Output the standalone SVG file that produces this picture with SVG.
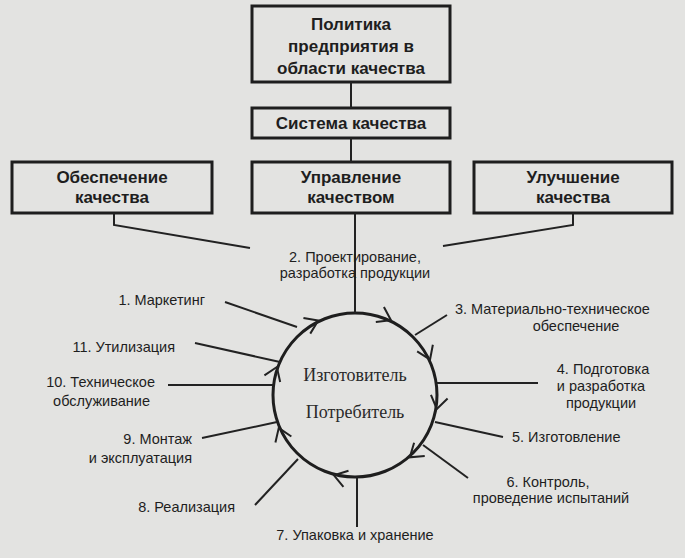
<svg xmlns="http://www.w3.org/2000/svg" xmlns:xlink="http://www.w3.org/1999/xlink" width="685" height="558" viewBox="0 0 685 558">
<style>
.box{fill:none;stroke:#1e1e1e;stroke-width:3}
.bt{font-family:"Liberation Sans",Arial,sans-serif;font-weight:bold;font-size:17px;fill:#1e1e1e;text-anchor:middle}
.lt{font-family:"Liberation Sans",Arial,sans-serif;font-size:14.5px;fill:#1e1e1e}
.ct{font-family:"Liberation Serif","Times New Roman",serif;font-size:18px;fill:#2a2a2a;text-anchor:middle}
.ln{stroke:#222;stroke-width:2;fill:none}
</style>
<defs>
<path id="chev" d="M430,383 L438,396 L447,384" fill="none" stroke="#222" stroke-width="2"/>
</defs>
<rect width="685" height="558" fill="#e3e3e1"/>
<g id="politika"><rect class="box" x="252" y="6" width="198" height="76"/>
<text class="bt" x="351" y="30">Политика</text><text class="bt" x="351" y="52">предприятия в</text><text class="bt" x="351" y="74">области качества</text></g>
<g id="sistema"><rect class="box" x="252" y="108" width="198" height="30"/><text class="bt" x="351" y="129">Система качества</text></g>
<g id="obesp"><rect class="box" x="12" y="162" width="200" height="51"/><text class="bt" x="112" y="183">Обеспечение</text><text class="bt" x="112" y="203">качества</text></g>
<g id="uprav"><rect class="box" x="252" y="162" width="198" height="51"/><text class="bt" x="351" y="183">Управление</text><text class="bt" x="351" y="203">качеством</text></g>
<g id="uluch"><rect class="box" x="474" y="162" width="198" height="51"/><text class="bt" x="573" y="183">Улучшение</text><text class="bt" x="573" y="203">качества</text></g>
<g id="cycle">
<circle cx="355" cy="395" r="82" fill="none" stroke="#1e1e1e" stroke-width="3"/>
<text class="ct" x="355" y="381">Изготовитель</text><text class="ct" x="355" y="418">Потребитель</text>
<use xlink:href="#chev" transform="rotate(-117 355 395)"/>
<use xlink:href="#chev" transform="rotate(-65 355 395)"/>
<use xlink:href="#chev" transform="rotate(-26 355 395)"/>
<use xlink:href="#chev" transform="rotate(9 355 395)"/>
<use xlink:href="#chev" transform="rotate(48 355 395)"/>
<use xlink:href="#chev" transform="rotate(104 355 395)"/>
<use xlink:href="#chev" transform="rotate(156 355 395)"/>
<use xlink:href="#chev" transform="rotate(199 355 395)"/>
</g>
<g id="connectors" class="ln">
<line x1="351" y1="82" x2="351" y2="108"/>
<line x1="351" y1="138" x2="351" y2="162"/>
<line x1="355" y1="213" x2="355" y2="313"/>
<polyline points="114,213 114,225 250,248"/>
<polyline points="573,213 573,225 443,246"/>
<line x1="225" y1="302" x2="297" y2="327"/>
<line x1="195" y1="343" x2="280" y2="362"/>
<line x1="168" y1="385" x2="273" y2="385"/>
<line x1="202" y1="438" x2="277" y2="422"/>
<line x1="255" y1="505" x2="298" y2="459"/>
<line x1="357" y1="477" x2="357" y2="527"/>
<line x1="468" y1="478" x2="423" y2="445"/>
<line x1="503" y1="437" x2="435" y2="422"/>
<line x1="437" y1="383" x2="538" y2="383"/>
<line x1="415" y1="335" x2="447" y2="315"/>
</g>
<g id="labels">
<text class="lt" x="355" y="262" text-anchor="middle">2. Проектирование,</text>
<text class="lt" x="355" y="278" text-anchor="middle">разработка продукции</text>
<text class="lt" x="205" y="305" text-anchor="end">1. Маркетинг</text>
<text class="lt" x="175" y="352" text-anchor="end">11. Утилизация</text>
<text class="lt" x="155" y="387" text-anchor="end">10. Техническое</text>
<text class="lt" x="150" y="406" text-anchor="end">обслуживание</text>
<text class="lt" x="192" y="444" text-anchor="end">9. Монтаж</text>
<text class="lt" x="192" y="463" text-anchor="end">и эксплуатация</text>
<text class="lt" x="235" y="512" text-anchor="end">8. Реализация</text>
<text class="lt" x="355" y="540" text-anchor="middle">7. Упаковка и хранение</text>
<text class="lt" x="548" y="487" text-anchor="middle">6. Контроль,</text>
<text class="lt" x="551" y="503" text-anchor="middle">проведение испытаний</text>
<text class="lt" x="512" y="442">5. Изготовление</text>
<text class="lt" x="603" y="374" text-anchor="middle">4. Подготовка</text>
<text class="lt" x="601" y="391" text-anchor="middle">и разработка</text>
<text class="lt" x="601" y="408" text-anchor="middle">продукции</text>
<text class="lt" x="455" y="314">3. Материально-техническое</text>
<text class="lt" x="576" y="331" text-anchor="middle">обеспечение</text>
</g>
</svg>
